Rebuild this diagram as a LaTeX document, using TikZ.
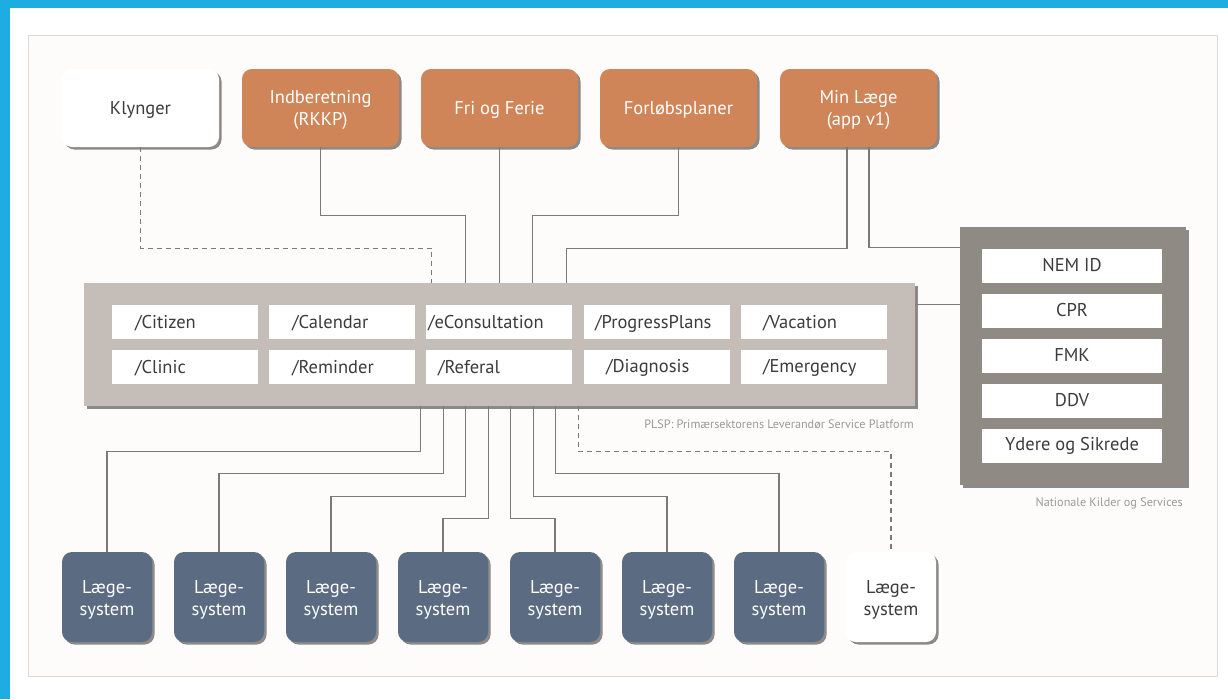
\documentclass[tikz,border=0pt]{standalone}
\usepackage{fontspec}
\setmainfont{PT Sans}
\usetikzlibrary{shadows,calc}
\definecolor{bblue}{HTML}{1EADE3}
\definecolor{panel}{HTML}{FDFCFA}
\definecolor{panelline}{HTML}{DCDAD8}
\definecolor{orng}{HTML}{CF8557}
\definecolor{slate}{HTML}{5A6B82}
\definecolor{plspg}{HTML}{C5BEB8}
\definecolor{natg}{HTML}{8F8A84}
\definecolor{conn}{HTML}{7A7A7A}
\definecolor{txtd}{HTML}{3C3C3C}
\definecolor{capt}{HTML}{9A9A9A}
\newcommand{\ins}[1]{\hspace*{#1pt}}
\newcommand{\twol}[3]{\raisebox{-#3pt}[\height][\depth]{\begin{tabular}{@{}c@{}}#1\\#2\end{tabular}}}
\newcommand{\lsys}{\twol{Læge-}{system}{2.6}}
\begin{document}
\begin{tikzpicture}[x=1pt,y=-1pt,
  shad/.style={drop shadow={shadow xshift=2.5pt,shadow yshift=-2.5pt,opacity=0.45,fill=black}},
  bigfont/.style={font=\fontsize{18.5}{22}\selectfont},
  lower/.style={execute at begin node={\rule{0pt}{#1pt}}},
  topbox/.style={shad, rounded corners=10pt, minimum width=157pt, minimum height=78pt, inner sep=0pt, align=center, bigfont, lower=17.5},
  appbox/.style={topbox, fill=orng, text=white},
  whitebox/.style={topbox, fill=white, text=txtd},
  lsbox/.style={shad, rounded corners=10pt, minimum width=90pt, minimum height=90pt, inner sep=0pt, align=center, bigfont, fill=slate, text=white},
  lswhite/.style={lsbox, fill=white, text=txtd},
  apibox/.style={fill=white, minimum height=34pt, text width=146pt, inner xsep=0pt, inner ysep=0pt, align=left, text=txtd, bigfont, lower=16.5},
  natbox/.style={fill=white, minimum width=180pt, minimum height=34pt, inner sep=0pt, text=txtd, bigfont},
  captext/.style={anchor=east, text=capt, font=\fontsize{12.2}{14}\selectfont, inner sep=0pt},
  conline/.style={draw=conn, line width=1.2pt},
  dconline/.style={draw=conn, line width=1.1pt, dash pattern=on 5pt off 4pt},
]
\useasboundingbox (0,0) rectangle (1228,699);
\fill[white] (0,0) rectangle (1228,699);
\fill[bblue] (0,0) rectangle (1228,8);
\fill[bblue] (0,0) rectangle (10,699);
\filldraw[fill=panel, draw=panelline, line width=1pt] (28,35) rectangle (1217,676);

% top boxes
\node[whitebox] (kl) at (140.5,108) {Klynger};
\node[appbox] (indb) at (320.5,108) {\twol{Indberetning}{(RKKP)}{2}};
\node[appbox] (fri) at (499.5,108) {Fri og Ferie};
\node[appbox] (forl) at (678.5,108) {Forløbsplaner};
\node[appbox] (minl) at (858.5,108) {\twol{Min Læge}{(app v1)}{2}};

% platform
\node[shad, fill=plspg, minimum width=831pt, minimum height=123pt, inner sep=0pt] (plsp) at (499.5,344.5) {};
\node[apibox] (a1) at (185,322) {\ins{23}/Citizen};
\node[apibox] (a2) at (342,322) {\ins{23}/Calendar};
\node[apibox] (a3) at (499,322) {\ins{2}/eConsultation};
\node[apibox] (a4) at (657,322) {\ins{11}/ProgressPlans};
\node[apibox] (a5) at (814,322) {\ins{22}/Vacation};
\node[apibox] (b1) at (185,366.5) {\ins{23}/Clinic};
\node[apibox] (b2) at (342,366.5) {\ins{23}/Reminder};
\node[apibox] (b3) at (499,366.5) {\ins{12}/Referal};
\node[apibox] (b4) at (657,366.5) {\ins{22}/Diagnosis};
\node[apibox] (b5) at (814,366.5) {\ins{22}/Emergency};
\node[captext] (plspcap) at (914,424) {PLSP: Primærsektorens Leverandør Service Platform};

% national sources
\node[shad, fill=natg, minimum width=226pt, minimum height=258pt, inner sep=0pt] (nat) at (1073,356) {};
\node[natbox] (n1) at (1072,265.5) {NEM ID};
\node[natbox] (n2) at (1072,310.5) {CPR};
\node[natbox] (n3) at (1072,355.5) {FMK};
\node[natbox] (n4) at (1072,400.5) {DDV};
\node[natbox] (n5) at (1072,445.5) {Ydere og Sikrede};
\node[captext] (natcap) at (1183,503) {Nationale Kilder og Services};

% bottom boxes
\node[lsbox] (ls1) at (107,597) {\lsys};
\node[lsbox] (ls2) at (219,597) {\lsys};
\node[lsbox] (ls3) at (331,597) {\lsys};
\node[lsbox] (ls4) at (443,597) {\lsys};
\node[lsbox] (ls5) at (555,597) {\lsys};
\node[lsbox] (ls6) at (667,597) {\lsys};
\node[lsbox] (ls7) at (779,597) {\lsys};
\node[lswhite] (ls8) at (891,597) {\lsys};

% top connectors
\draw[dconline] (kl.south) -- ++(0,101) -| ($(plsp.north west)+(348,0)$);
\draw[conline] (indb.south) -- ++(0,68) -| ($(plsp.north west)+(382,0)$);
\draw[conline] (fri.south) -- (fri.south |- plsp.north);
\draw[conline] (forl.south) -- ++(0,68) -| ($(plsp.north west)+(449,0)$);
\draw[conline] ($(minl.south)+(-11.5,0)$) -- ++(0,101) -| ($(plsp.north west)+(483,0)$);
\draw[conline] ($(minl.south)+(10.5,0)$) |- ($(nat.north west)+(0,21)$);
\draw[conline] ($(plsp.north east)+(0,22)$) -- ($(nat.north west)+(0,78)$);

% bottom connectors
\draw[conline] ($(plsp.south west)+(337,0)$) -- ++(0,45) -| (ls1.north);
\draw[conline] ($(plsp.south west)+(359.5,0)$) -- ++(0,67) -| (ls2.north);
\draw[conline] ($(plsp.south west)+(382,0)$) -- ++(0,90) -| (ls3.north);
\draw[conline] ($(plsp.south west)+(404.5,0)$) -- ++(0,112) -| (ls4.north);
\draw[conline] ($(plsp.south west)+(427,0)$) -- ++(0,112) -| (ls5.north);
\draw[conline] ($(plsp.south west)+(449.5,0)$) -- ++(0,90) -| (ls6.north);
\draw[conline] ($(plsp.south west)+(472,0)$) -- ++(0,67) -| (ls7.north);
\draw[dconline] ($(plsp.south west)+(494.5,0)$) -- ++(0,45) -| (ls8.north);
\end{tikzpicture}
\end{document}
